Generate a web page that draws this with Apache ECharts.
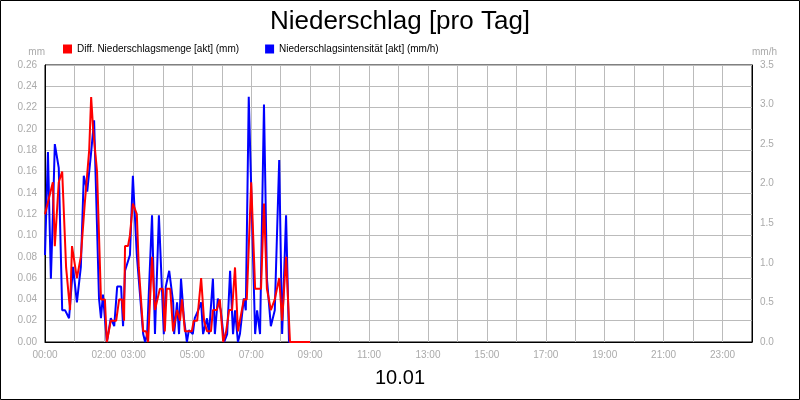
<!DOCTYPE html>
<html><head><meta charset="utf-8">
<script src="https://cdn.jsdelivr.net/npm/echarts@6/dist/echarts.min.js"></script>
<style>html,body{margin:0;padding:0;background:#fff}#c{width:800px;height:400px}</style>
</head><body><div id="c"></div>
<script>
// times in minutes since 00:00
const redTimes = [0,16,20,28,35,43,51,55,65,73,81,90,94,98,106,114,122,126,134,145,151,157,161,163,169,173,179,187,191,200,206,210,218,224,234,240,244,248,255,261,269,275,279,285,299,303,310,318,324,330,338,342,350,356,363,369,375,381,387,393,405,411,420,428,432,440,446,452,460,468,477,483,491,499,540];
const redValues = [0.12,0.15,0.09,0.15,0.16,0.07,0.03,0.09,0.06,0.08,0.13,0.18,0.23,0.20,0.16,0.04,0.04,0.0,0.02,0.02,0.04,0.04,0.02,0.09,0.09,0.10,0.13,0.12,0.07,0.01,0.01,0.0,0.08,0.03,0.05,0.05,0.01,0.05,0.05,0.01,0.03,0.02,0.04,0.01,0.01,0.02,0.02,0.06,0.02,0.01,0.01,0.03,0.03,0.04,0.0,0.01,0.03,0.03,0.07,0.01,0.04,0.04,0.15,0.05,0.05,0.05,0.13,0.05,0.03,0.04,0.06,0.02,0.08,0.0,0.0];
const blueTimes = [0,6,12,16,20,28,35,41,49,51,57,65,73,79,86,94,100,110,114,118,126,134,141,147,155,159,163,167,173,179,187,200,204,208,218,224,232,242,246,253,261,263,269,273,277,283,289,293,301,305,312,318,322,330,334,342,346,352,358,365,371,377,383,387,393,397,405,409,415,428,432,438,446,452,460,468,477,483,491,497,540];
const blueValues = [1.1,2.4,0.8,1.6,2.5,2.2,0.4,0.4,0.3,0.3,0.95,0.5,0.95,2.1,1.9,2.4,2.8,0.55,0.3,0.6,0.0,0.3,0.2,0.7,0.7,0.2,0.9,0.9,1.1,2.1,1.1,0.1,0.0,0.1,1.6,0.1,1.6,0.1,0.7,0.9,0.5,0.1,0.5,0.1,0.8,0.3,0.0,0.15,0.1,0.3,0.4,0.5,0.1,0.3,0.1,0.8,0.1,0.55,0.4,0.0,0.1,0.9,0.1,0.4,0.0,0.1,0.55,0.4,3.1,0.1,0.4,0.1,3.0,0.8,0.2,0.4,2.3,0.1,1.6,0.0,0.0];
const xTickLabels = ["00:00","02:00","03:00","05:00","07:00","09:00","11:00","13:00","15:00","17:00","19:00","21:00","23:00"];
const seriesNames = ["Diff. Niederschlagsmenge [akt] (mm)","Niederschlagsintensität [akt] (mm/h)"];

const pad = n => String(n).padStart(2,'0');
const fmt = v => pad(Math.floor(v/60)) + ':00';
const chart = echarts.init(document.getElementById('c'));
const F = 'Liberation Sans, Arial, sans-serif';
chart.setOption({
  animation:false,
  textStyle:{fontFamily:F},
  title:{text:'Niederschlag [pro Tag]',left:'center',top:4,textStyle:{fontSize:26,fontWeight:'normal',color:'#000',fontFamily:F}},
  legend:{top:39,left:58,itemWidth:9,itemHeight:9,itemGap:26,icon:'rect',textStyle:{fontSize:10,color:'#000'},data:seriesNames},
  grid:{left:45,right:48,top:65,bottom:58,show:true,borderColor:'#000',borderWidth:1},
  graphic:[
    {type:'rect',shape:{x:0.5,y:0.5,width:799,height:399},style:{fill:'none',stroke:'#000',lineWidth:1}},
    {type:'text',left:'center',top:368,style:{text:'10.01',fontSize:20,fill:'#000',fontFamily:F}}
  ],
  xAxis:{type:'value',min:0,max:1440,interval:60,
    axisLine:{lineStyle:{color:'#000'}},axisTick:{show:false},
    splitLine:{lineStyle:{color:'#bbb'}},
    axisLabel:{color:'#aaa',fontSize:10,showMaxLabel:false,formatter:v=>xTickLabels.includes(fmt(v))?fmt(v):''}},
  yAxis:[
    {type:'value',min:0,max:0.26,interval:0.02,name:'mm',nameGap:8,nameTextStyle:{color:'#aaa',fontSize:10,align:'right'},
     axisLine:{show:true,lineStyle:{color:'#000'}},axisTick:{show:false},
     splitLine:{lineStyle:{color:'#bbb'}},axisLabel:{color:'#aaa',fontSize:10,formatter:v=>v.toFixed(2)}},
    {type:'value',min:0,max:3.5,interval:0.5,name:'mm/h',nameGap:8,nameTextStyle:{color:'#aaa',fontSize:10,align:'left'},
     axisLine:{show:true,lineStyle:{color:'#000'}},axisTick:{show:false},
     splitLine:{show:false},axisLabel:{color:'#aaa',fontSize:10,formatter:v=>v.toFixed(1)}}
  ],
  series:[
    {name:seriesNames[1],type:'line',yAxisIndex:1,showSymbol:false,itemStyle:{color:'#0000ff'},lineStyle:{color:'#0000ff',width:2},
     data:blueTimes.map((t,i)=>[t,blueValues[i]]),z:2},
    {name:seriesNames[0],type:'line',yAxisIndex:0,showSymbol:false,itemStyle:{color:'#ff0000'},lineStyle:{color:'#ff0000',width:2},
     data:redTimes.map((t,i)=>[t,redValues[i]]),z:3}
  ]
});
</script></body></html>
